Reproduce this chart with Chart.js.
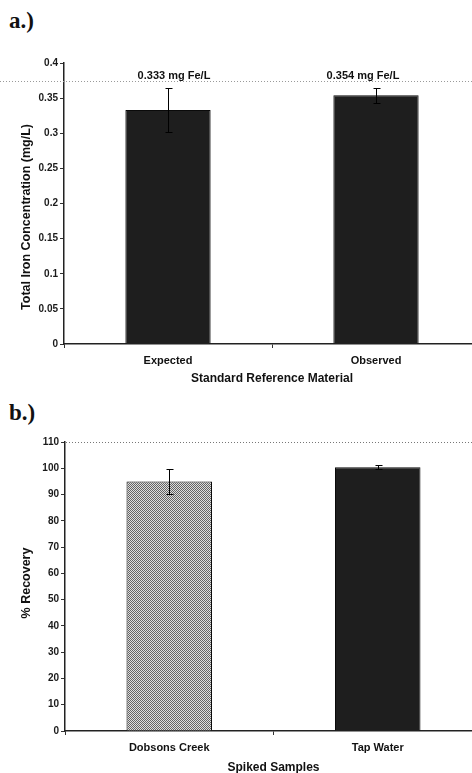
<!DOCTYPE html>
<html><head><meta charset="utf-8">
<script src="https://cdn.jsdelivr.net/npm/chart.js@4"></script>
<style>
html,body{margin:0;padding:0;background:#fff;overflow:hidden;width:472px;height:773px;position:relative}
.lbl{position:absolute;left:9px;font-family:"Liberation Serif","Times New Roman",serif;font-weight:bold;font-size:23px;line-height:23px;color:#111}
#wa{position:absolute;left:0;top:0;width:480px;height:390px}
#wb{position:absolute;left:0;top:390px;width:482px;height:386px}
</style></head><body>
<div class="lbl" style="top:9px">a.)</div>
<div class="lbl" style="top:401px">b.)</div>
<div id="wa"><canvas id="ca"></canvas></div>
<div id="wb"><canvas id="cb"></canvas></div>
<script>
// ---- data ----
const catsA = ['Expected', 'Observed'];
const valsA = [0.333, 0.354];
const errA = [0.031, 0.011];
const ticksA = [0, 0.05, 0.1, 0.15, 0.2, 0.25, 0.3, 0.35, 0.4];
const labelsA = ['0.333 mg Fe/L', '0.354 mg Fe/L'];

const catsB = ['Dobsons Creek', 'Tap Water'];
const valsB = [95.0, 100.4];
const errB = [4.8, 0.8];
const ticksB = [0, 10, 20, 30, 40, 50, 60, 70, 80, 90, 100, 110];

const FAM = '"Liberation Sans", Arial, sans-serif';

function checker() {
  const c = document.createElement('canvas'); c.width = 2; c.height = 2;
  const g = c.getContext('2d');
  g.fillStyle = '#dedede'; g.fillRect(0, 0, 2, 2);
  g.fillStyle = '#646464'; g.fillRect(0, 0, 1, 1); g.fillRect(1, 1, 1, 1);
  return g.createPattern(c, 'repeat');
}

const errorBars = {
  id: 'errorBars',
  afterDatasetsDraw(chart, args, opts) {
    const meta = chart.getDatasetMeta(0), y = chart.scales.y, ctx = chart.ctx;
    const data = chart.data.datasets[0].data;
    ctx.save(); ctx.strokeStyle = '#000'; ctx.lineWidth = 1;
    opts.errors.forEach((e, i) => {
      const x = Math.round(meta.data[i].x) + 0.5;
      const yt = Math.round(y.getPixelForValue(data[i] + e)) + 0.5;
      const yb = Math.round(y.getPixelForValue(data[i] - e)) + 0.5;
      ctx.beginPath();
      ctx.moveTo(x, yt); ctx.lineTo(x, yb);
      ctx.moveTo(x - 3, yt); ctx.lineTo(x + 4, yt);
      ctx.moveTo(x - 3, yb); ctx.lineTo(x + 4, yb);
      ctx.stroke();
    });
    ctx.restore();
  }
};

const extras = {
  id: 'extras',
  afterDraw(chart, args, opts) {
    const ctx = chart.ctx, a = chart.chartArea, y = chart.scales.y;
    ctx.save();
    (opts.lines || []).forEach(l => {
      const py = Math.round(l.value !== undefined ? y.getPixelForValue(l.value) : l.px) + 0.5;
      ctx.strokeStyle = l.color; ctx.lineWidth = 1; ctx.setLineDash([1, 2]);
      ctx.beginPath(); ctx.moveTo(l.fromArea ? a.left + 1 : 0, py); ctx.lineTo(chart.width, py); ctx.stroke();
    });
    ctx.setLineDash([]);
    if (opts.yTitle) {
      ctx.save();
      ctx.translate(opts.yTitle.x, opts.yTitle.y);
      ctx.rotate(-Math.PI / 2);
      ctx.font = 'bold 12.5px ' + FAM;
      ctx.fillStyle = '#111'; ctx.textAlign = 'center'; ctx.textBaseline = 'middle';
      ctx.fillText(opts.yTitle.text, 0, 0);
      ctx.restore();
    }
    if (opts.barLabels) {
      const meta = chart.getDatasetMeta(0);
      ctx.font = 'bold 11px ' + FAM;
      ctx.fillStyle = '#111'; ctx.textAlign = 'center'; ctx.textBaseline = 'middle';
      opts.barLabels.texts.forEach((t, i) => {
        ctx.fillText(t, meta.data[i].x + opts.barLabels.dx[i], a.top + opts.barLabels.dy);
      });
    }
    ctx.restore();
  }
};

function make(id, cats, vals, colors, ticks, yW, xH, padTop, xTitle, xTitlePad, decimals, pluginOpts) {
  return new Chart(document.getElementById(id), {
    type: 'bar',
    data: {
      labels: cats,
      datasets: [{
        data: vals,
        backgroundColor: colors,
        borderColor: '#0a0a0a',
        borderWidth: 1,
        barPercentage: 0.41,
        categoryPercentage: 1
      }]
    },
    options: {
      responsive: true,
      maintainAspectRatio: false,
      animation: false,
      layout: { padding: { top: padTop, left: 0, right: 0, bottom: 0 } },
      plugins: { legend: { display: false }, tooltip: { enabled: false }, extras: pluginOpts.extras, errorBars: pluginOpts.errorBars },
      scales: {
        x: {
          afterFit(s) { s.height = xH; },
          ticks: { font: { family: FAM, size: 11, weight: 'bold' }, color: '#111', padding: 6 },
          grid: { offset: true, drawOnChartArea: false, drawTicks: true, tickLength: 4, tickColor: '#333' },
          border: { display: true, color: '#222', width: 1.5 },
          title: { display: true, text: xTitle, color: '#111', font: { family: FAM, size: 12, weight: 'bold' }, padding: { top: 0, bottom: xTitlePad } }
        },
        y: {
          min: ticks[0], max: ticks[ticks.length - 1],
          afterFit(s) { s.width = yW; },
          afterBuildTicks(s) { s.ticks = ticks.map(v => ({ value: v })); },
          ticks: { font: { family: FAM, size: 10, weight: 'bold' }, color: '#1a1a1a', padding: 2,
                   callback: v => String(+(+v).toFixed(decimals)) },
          grid: { drawOnChartArea: false, drawTicks: true, tickLength: 4, tickColor: '#333' },
          border: { display: true, color: '#222', width: 1.5 }
        }
      }
    },
    plugins: [errorBars, extras]
  });
}

make('ca', catsA, valsA, ['#1e1e1e', '#1e1e1e'], ticksA, 64, 46, 63,
  'Standard Reference Material', 4, 2, {
    errorBars: { errors: errA },
    extras: {
      lines: [{ px: 81, color: '#9a9a9a', fromArea: false }],
      yTitle: { text: 'Total Iron Concentration (mg/L)', x: 27, y: 217 },
      barLabels: { texts: labelsA, dx: [6, -13], dy: 13 }
    }
  });

make('cb', catsB, valsB, [checker(), '#1e1e1e'], ticksB, 65, 45, 52,
  'Spiked Samples', 1, 0, {
    errorBars: { errors: errB },
    extras: {
      lines: [{ value: 110, color: '#777', fromArea: true }],
      yTitle: { text: '% Recovery', x: 27, y: 193 }
    }
  });
</script>
</body></html>
